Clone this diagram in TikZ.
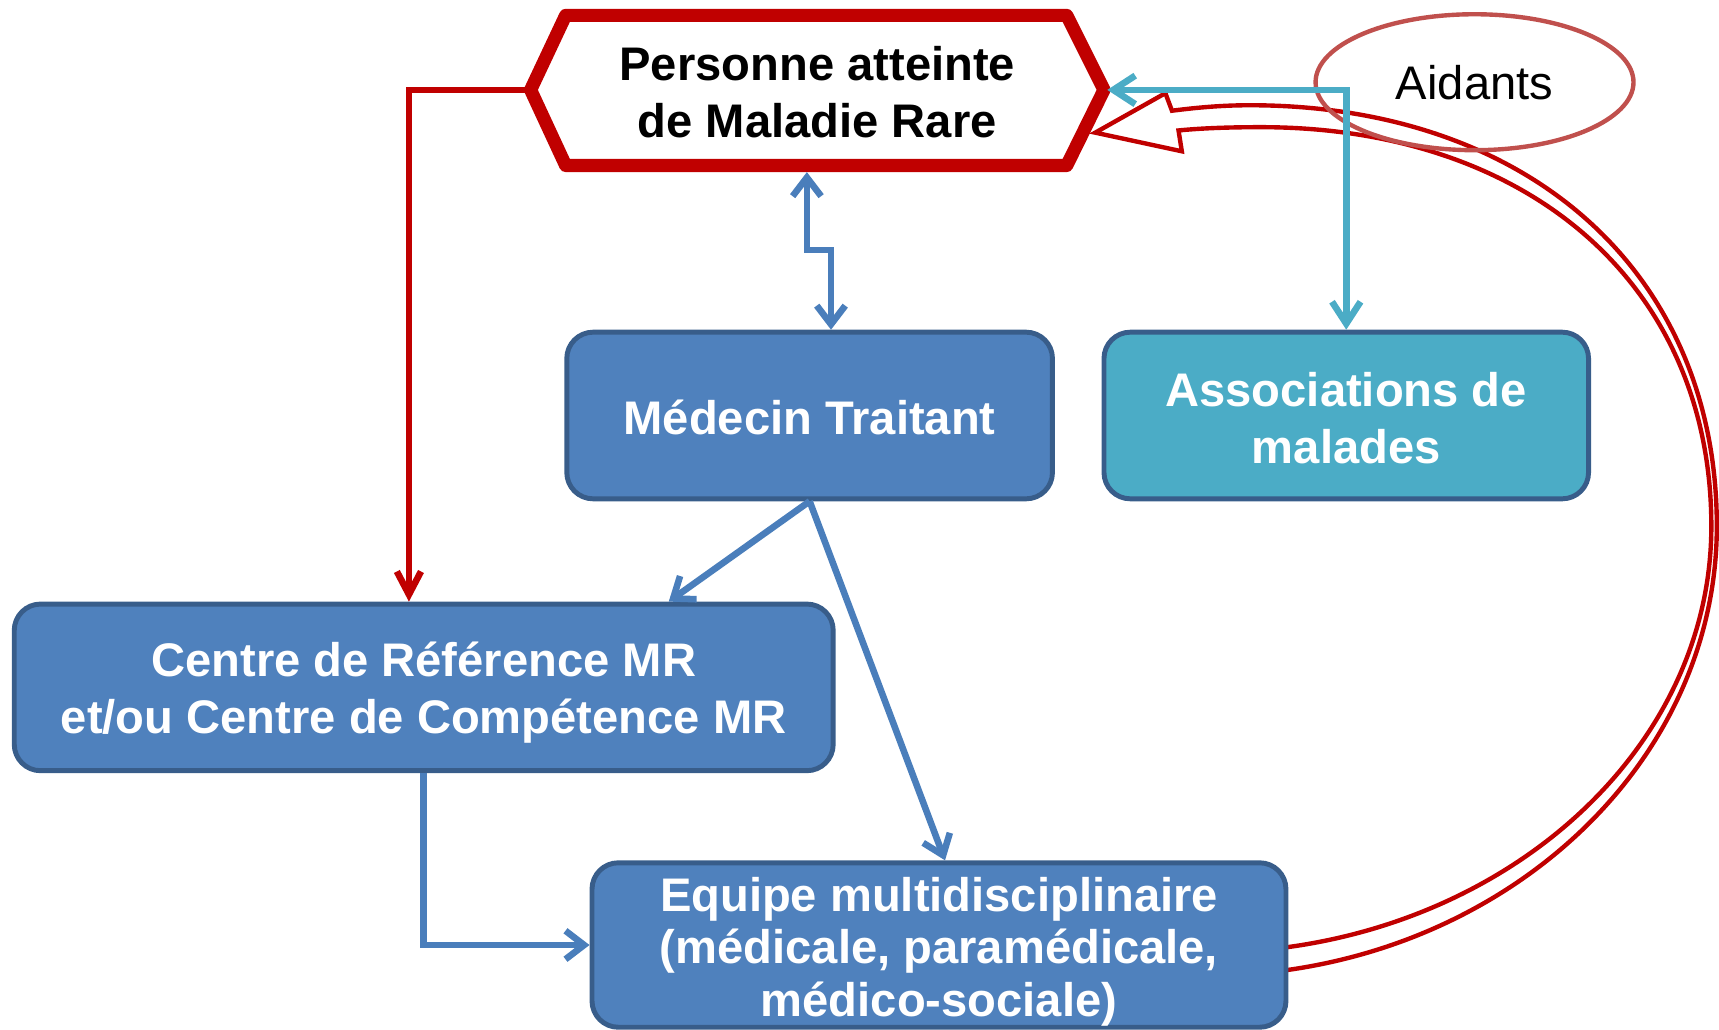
\documentclass[tikz,border=0pt]{standalone}
\usepackage{fontspec}
\setmainfont{Liberation Sans}
\usetikzlibrary{arrows.meta,shapes.geometric,calc,backgrounds}
\definecolor{mrred}{HTML}{C00000}
\definecolor{boxblue}{HTML}{4F81BD}
\definecolor{boxedge}{HTML}{385D8A}
\definecolor{boxcyan}{HTML}{4BACC6}
\definecolor{lineblue}{HTML}{4A7EBB}
\definecolor{aidred}{HTML}{C0504D}
\begin{document}
\begin{tikzpicture}[x=1pt,y=-1pt,
  boxstyle/.style={draw=boxedge, line width=4.5pt, rounded corners=24pt, inner sep=0pt},
  boxtext/.style={text=white, align=center, inner sep=0pt,
    font=\fontsize{43}{52}\selectfont\bfseries},
  bluebarb/.tip={Straight Barb[length=17pt,width=26pt]},
  redbarb/.tip={Straight Barb[length=21pt,width=22pt]},
  cyanbarb/.tip={Straight Barb[length=20pt,width=26pt]},
  blueconn/.style={draw=lineblue, line width=6pt},
  redconn/.style={draw=mrred, line width=6pt},
  cyanconn/.style={draw=boxcyan, line width=6pt},
  bandline/.style={draw=mrred, line width=4pt, fill=white, line join=miter}]
\useasboundingbox (0,0) rectangle (1568,939);

% hexagon
\coordinate (hexL) at (484,82);
\coordinate (hexTL) at (516,14);
\coordinate (hexTR) at (973,14);
\coordinate (hexR) at (1007,82);
\coordinate (hexBR) at (973,151);
\coordinate (hexBL) at (516,151);
\coordinate (hexB) at (736,157);
\coordinate (hexRo) at (1010,82);
\coordinate (tipA) at (999,121);
\draw[mrred, line width=12pt, line join=round, fill=white]
  (hexL) -- (hexTL) -- (hexTR) -- (hexR) -- (hexBR) -- (hexBL) -- cycle;
\node[font=\fontsize{43}{52}\selectfont\bfseries, align=center, inner sep=0pt] (pers)
  at (745.5,84) {Personne atteinte\\de Maladie Rare};

% boxes
\node[boxstyle, fill=boxblue, minimum width=443pt, minimum height=152pt] (med)
  at (738.5,379) {};
\node[boxtext] (medTxt) at (738.5,381) {Médecin Traitant};
\node[boxstyle, fill=boxcyan, minimum width=442pt, minimum height=152pt] (assoc)
  at (1228,379) {};
\node[boxtext] (assocTxt) at (1228,381) {Associations de\\malades};
\node[boxstyle, fill=boxblue, minimum width=747pt, minimum height=152pt] (crmr)
  at (386.5,627) {};
\node[boxtext] (crmrTxt) at (386.5,632) {Centre de Référence MR\\et/ou Centre de Compétence MR};
\node[boxstyle, fill=boxblue, minimum width=633pt, minimum height=150pt] (equipe)
  at (856.5,862) {};
\node[boxtext, font=\fontsize{43}{48}\selectfont\bfseries] (equipeTxt)
  at (856.5,868) {Equipe multidisciplinaire\\(médicale, paramédicale,\\médico-sociale)};

% Aidants
\node[ellipse, draw=aidred, line width=4pt, minimum width=290pt, minimum height=124pt,
  inner sep=0pt, font=\fontsize{43}{52}\selectfont] (aid) at (1345,75) {Aidants};

% connectors
\draw[redconn, -{redbarb}] (hexL) -| ([xshift=-13.5pt]crmr.north);
\draw[blueconn, {bluebarb}-{bluebarb}] (hexB) -- ++(0,71) -| ([xshift=19.5pt]med.north);
\draw[blueconn, -{bluebarb}] (med.south) -- ([xshift=223.5pt]crmr.north);
\draw[blueconn, -{bluebarb}] (med.south) -- ([xshift=5.5pt]equipe.north);
\draw[blueconn, -{bluebarb}] (crmr.south) |- (equipe.west);
\draw[cyanconn, {cyanbarb}-{cyanbarb}] (hexRo) -| (assoc.north);

% big hollow curved arrow
\coordinate (bandB) at (1100,890);
\coordinate (bandR) at (1566,480);
\coordinate (bandT) at (1140,96);
\coordinate (bandTi) at (1150,116);
\coordinate (bandRi) at (1561,480);
\coordinate (bandBi) at (1100,869);
\begin{scope}[on background layer]
\draw[bandline]
  (bandB) .. controls (1357,890) and (1566,706) .. (bandR)
  .. controls (1566,249.6) and (1395.6,96) .. (bandT)
  .. controls (1110,96) and (1085,99) .. (1069,101)
  -- (1063,85) -- (tipA) -- (1078,138) -- (1075,119)
  .. controls (1095,117) and (1120,116) .. (bandTi)
  .. controls (1396.6,116) and (1561,261.6) .. (bandRi)
  .. controls (1561,694.7) and (1354.5,869) .. (bandBi) -- cycle;
\end{scope}
\end{tikzpicture}
\end{document}
